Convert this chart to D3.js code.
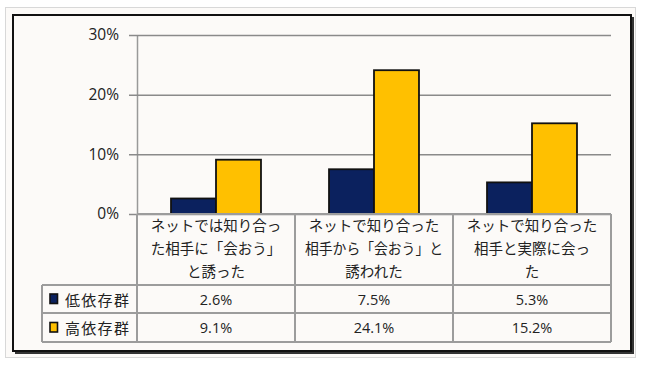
<!DOCTYPE html>
<html><head><meta charset="utf-8">
<script src="https://cdn.jsdelivr.net/npm/d3@7"></script>
<style>
html,body{margin:0;padding:0;background:#fff;}
svg{display:block;}
text{font-family:"Noto Sans CJK JP","Noto Sans",sans-serif;fill:#222;}
</style></head>
<body>
<svg id="chart" width="645" height="367"></svg>
<script>
const categories = [
  ["ネットでは知り合っ","た相手に「会おう」","と誘った"],
  ["ネットで知り合った","相手から「会おう」と","誘われた"],
  ["ネットで知り合った","相手と実際に会っ","た"]
];
const seriesNames = ["低依存群","高依存群"];
const lowValues = [2.6, 7.5, 5.3];
const highValues = [9.1, 24.1, 15.2];
const valueLabels = [["2.6%","7.5%","5.3%"],["9.1%","24.1%","15.2%"]];
const yTicks = [0,10,20,30];
const colors = ["#0b215e","#ffc000"];

const svg = d3.select("#chart");
// outer light border
svg.append("rect").attr("x",5.5).attr("y",7.5).attr("width",630).attr("height",350)
  .attr("fill","#fcfaf8").attr("stroke","#d8d8d8").attr("stroke-width",1);
// shadow
svg.append("rect").attr("x",15).attr("y",17).attr("width",619).attr("height",337).attr("fill","#333");
// frame
svg.append("rect").attr("x",13).attr("y",15).attr("width",618).attr("height",336)
  .attr("fill","#fcfaf8").attr("stroke","#111").attr("stroke-width",2);

const pLeft = 137, pRight = 611, pTop = 35, pBase = 214;
const y = d3.scaleLinear().domain([0,30]).range([pBase, pTop]);
const x0 = d3.scaleBand().domain(d3.range(categories.length)).range([pLeft,pRight]).padding(0);
const x1 = d3.scaleBand().domain([0,1]).range([0,x0.bandwidth()]).paddingInner(0).paddingOuter(0.756);

// gridlines + y axis
const yAxis = d3.axisLeft(y).tickValues(yTicks).tickFormat(d=>d+"%").tickSize(-(pRight-pLeft)).tickSizeOuter(0).tickPadding(18);
const ga = svg.append("g").attr("transform",`translate(${pLeft},0)`).call(yAxis);
ga.select(".domain").attr("stroke","#999").attr("stroke-width",1.5);
ga.selectAll(".tick line").attr("stroke","#8a8a8a").attr("stroke-width",1.5).attr("x1",-8);
ga.selectAll(".tick text").attr("font-size",15.5).attr("fill","#222")
  .style("font-family","'Open Sans','DejaVu Sans',sans-serif");

// bars
const data = [lowValues, highValues];
data.forEach((vals,si)=>{
  svg.append("g").selectAll("rect").data(vals).join("rect")
    .attr("x",(d,i)=>x0(i)+x1(si))
    .attr("width",x1.bandwidth())
    .attr("y",d=>y(d))
    .attr("height",d=>y(0)-y(d))
    .attr("fill",colors[si]).attr("stroke","#111").attr("stroke-width",1.8);
});

// table
const tleft = 42, rowY = [285,313,342];
const tg = svg.append("g");
const lc = "#9c9c9c", lw = 2;
tg.append("line").attr("x1",pLeft).attr("x2",pRight).attr("y1",pBase).attr("y2",pBase).attr("stroke",lc).attr("stroke-width",lw);
rowY.forEach(yy=>tg.append("line").attr("x1",tleft).attr("x2",pRight).attr("y1",yy).attr("y2",yy).attr("stroke",lc).attr("stroke-width",lw));
tg.append("line").attr("x1",tleft).attr("x2",tleft).attr("y1",rowY[0]).attr("y2",rowY[2]).attr("stroke",lc).attr("stroke-width",lw);
const vx = [pLeft].concat(categories.map((c,i)=>x0(i)+x0.bandwidth()));
vx.forEach(xx=>tg.append("line").attr("x1",xx).attr("x2",xx).attr("y1",pBase).attr("y2",rowY[2]).attr("stroke",lc).attr("stroke-width",lw));

// category labels
categories.forEach((lines,i)=>{
  const cx = x0(i)+x0.bandwidth()/2;
  lines.forEach((ln,j)=>{
    const t = tg.append("text").attr("x",cx).attr("y",224+j*23).attr("text-anchor","middle")
      .attr("dominant-baseline","central").attr("font-size",14.5).text(ln);
    const len = t.node().getComputedTextLength();
    if (len > 138) t.attr("textLength",138).attr("lengthAdjust","spacingAndGlyphs");
  });
});

// series rows
seriesNames.forEach((nm,si)=>{
  const cy = (rowY[si]+rowY[si+1])/2;
  tg.append("rect").attr("x",50).attr("y",cy-5).attr("width",7.5).attr("height",9.5)
    .attr("fill",colors[si]).attr("stroke","#111").attr("stroke-width",1.6);
  tg.append("text").attr("x",65).attr("y",cy).attr("dominant-baseline","central")
    .attr("font-size",15).attr("letter-spacing",1.3).text(nm);
  valueLabels[si].forEach((v,i)=>{
    tg.append("text").attr("x",x0(i)+x0.bandwidth()/2).attr("y",cy).attr("text-anchor","middle")
      .attr("dominant-baseline","central").attr("font-size",14.5)
      .style("font-family","'Open Sans','DejaVu Sans',sans-serif").text(v);
  });
});
</script>
</body></html>
